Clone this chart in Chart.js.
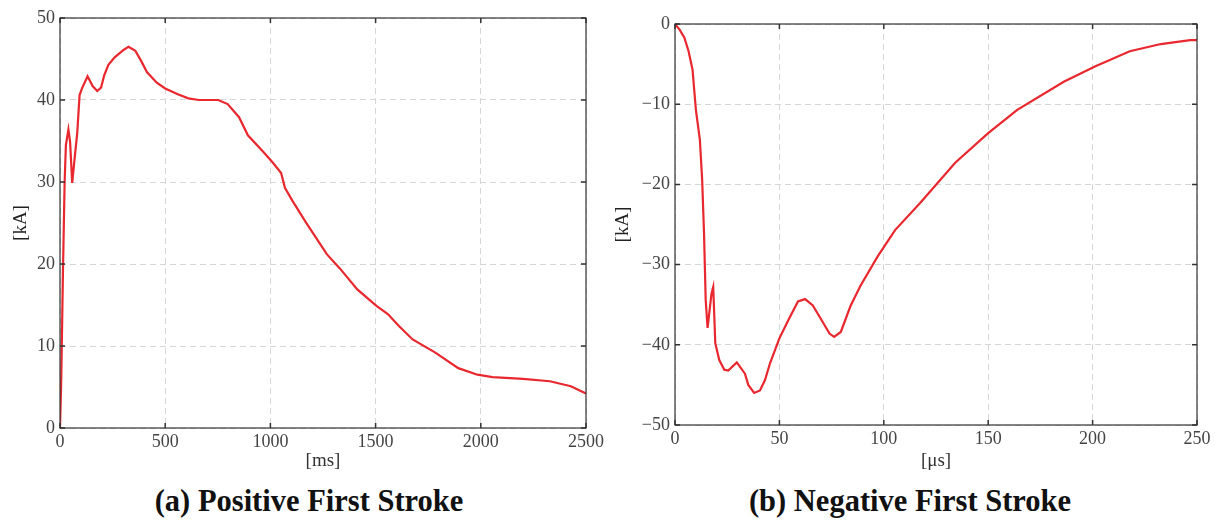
<!DOCTYPE html>
<html>
<head>
<meta charset="utf-8">
<script src="https://cdn.jsdelivr.net/npm/chart.js@4"></script>
<style>
  body { margin: 0; background: #fff; width: 1215px; height: 521px; position: relative; overflow: hidden; font-family: "Liberation Serif", serif; }
  canvas { position: absolute; top: 0; }
  #posChart { left: 0; }
  #negChart { left: 610px; }
  .caption { position: absolute; top: 484px; font: bold 30.5px "Liberation Serif", serif; color: #111; white-space: nowrap; transform: translateX(-50%); }
</style>
</head>
<body>
<canvas id="posChart" width="610" height="480"></canvas>
<canvas id="negChart" width="605" height="480"></canvas>
<div class="caption" style="left:309px">(a) Positive First Stroke</div>
<div class="caption" style="left:910px">(b) Negative First Stroke</div>
<script>
// positive first stroke, time in ms, current in kA
const posTime = [0, 6, 14, 22, 28, 40, 48, 58, 70, 82, 93, 106, 131, 155, 177, 195, 210, 230, 260, 302, 326, 358, 385, 413, 460, 500, 560, 610, 660, 752, 797, 851, 893, 969, 1010, 1051, 1069, 1105, 1168, 1268, 1332, 1413, 1504, 1558, 1612, 1676, 1784, 1893, 1984, 2056, 2201, 2328, 2428, 2500];
const posCurrent = [0, 6, 19, 30, 34.5, 36.4, 34.9, 29.9, 33, 36, 40.6, 41.5, 42.9, 41.7, 41.1, 41.5, 43, 44.3, 45.2, 46.1, 46.5, 46.0, 44.8, 43.4, 42.1, 41.4, 40.7, 40.2, 40.0, 40.0, 39.5, 37.9, 35.7, 33.6, 32.4, 31.1, 29.3, 27.7, 25.1, 21.2, 19.4, 16.9, 14.9, 13.9, 12.4, 10.8, 9.2, 7.3, 6.5, 6.2, 6.0, 5.7, 5.1, 4.2];

// negative first stroke, time in µs, current in kA
const negTime = [0, 2.2, 4.5, 6.5, 8.4, 10.0, 11.9, 13.0, 13.9, 14.7, 15.6, 17.5, 18.3, 19.3, 21.2, 23.6, 25.5, 29.6, 33.5, 35.1, 37.9, 40.7, 43.1, 45.5, 50.0, 54.3, 58.9, 62.3, 66.0, 70.6, 74.0, 76.2, 79.4, 84.0, 88.7, 97.0, 105.4, 117.5, 134.2, 150.0, 163.9, 186.2, 201.1, 217.8, 232.7, 246.7, 250];
const negCurrent = [0, -0.7, -1.7, -3.4, -5.7, -10.7, -14.4, -19.4, -26.1, -34.4, -37.9, -33.6, -32.8, -39.8, -41.9, -43.1, -43.2, -42.2, -43.6, -45.0, -46.0, -45.7, -44.4, -42.3, -39.2, -36.9, -34.6, -34.3, -35.1, -37.1, -38.6, -39.0, -38.4, -35.2, -32.7, -29.0, -25.7, -22.3, -17.3, -13.6, -10.7, -7.2, -5.3, -3.4, -2.5, -2.0, -2.0];

const posXTicks = [0, 500, 1000, 1500, 2000, 2500];
const posYTicks = [0, 10, 20, 30, 40, 50];
const negXTicks = [0, 50, 100, 150, 200, 250];
const negYTicks = [-50, -40, -30, -20, -10, 0];

const serif = "'Liberation Serif', 'DejaVu Serif', serif";
Chart.defaults.font.family = serif;
const tickFont = { family: serif, size: 18 };
const titleFont = { family: serif, size: 19 };
const lineRed = "#e8282e";

// box around the plot and inward ticks on all four sides
const boxPlugin = {
  id: "box",
  afterDraw(chart) {
    const { ctx, chartArea: a, scales } = chart;
    ctx.save();
    ctx.strokeStyle = "#333";
    ctx.lineWidth = 1.2;
    ctx.strokeRect(a.left, a.top, a.right - a.left, a.bottom - a.top);
    ctx.lineWidth = 1.5;
    ctx.beginPath();
    scales.x.ticks.forEach(t => {
      const px = scales.x.getPixelForValue(t.value);
      ctx.moveTo(px, a.bottom); ctx.lineTo(px, a.bottom - 5);
      ctx.moveTo(px, a.top); ctx.lineTo(px, a.top + 5);
    });
    scales.y.ticks.forEach(t => {
      const py = scales.y.getPixelForValue(t.value);
      ctx.moveTo(a.left, py); ctx.lineTo(a.left + 5, py);
      ctx.moveTo(a.right, py); ctx.lineTo(a.right - 5, py);
    });
    ctx.stroke();
    ctx.restore();
  }
};

const fmt = v => (v < 0 ? "\u2212" + Math.abs(v) : String(v));

function makeChart(id, xs, ys, xTicks, yTicks, xTitle, pad, yWidth, xHeight, yTitlePad) {
  return new Chart(document.getElementById(id), {
    type: "line",
    plugins: [boxPlugin],
    data: {
      datasets: [{
        data: xs.map((x, i) => ({ x: x, y: ys[i] })),
        borderColor: lineRed,
        borderWidth: 2.2,
        pointRadius: 0,
        tension: 0
      }]
    },
    options: {
      responsive: false,
      animation: false,
      devicePixelRatio: 1,
      layout: { padding: pad },
      plugins: { legend: { display: false }, tooltip: { enabled: false } },
      scales: {
        x: {
          type: "linear",
          min: xTicks[0],
          max: xTicks[xTicks.length - 1],
          afterBuildTicks: s => { s.ticks = xTicks.map(v => ({ value: v })); },
          afterFit: s => { s.height = xHeight; },
          grid: { color: "#d6d6d6", lineWidth: 1, drawTicks: false },
          border: { display: false, dash: [6, 4] },
          ticks: { font: tickFont, color: "#444", padding: 3, maxRotation: 0, callback: fmt },
          title: { display: true, text: xTitle, font: titleFont, color: "#333", padding: { top: 0, bottom: 8 } }
        },
        y: {
          min: yTicks[0],
          max: yTicks[yTicks.length - 1],
          afterBuildTicks: s => { s.ticks = yTicks.map(v => ({ value: v })); },
          afterFit: s => { s.width = yWidth; },
          grid: { color: "#d6d6d6", lineWidth: 1, drawTicks: false },
          border: { display: false, dash: [6, 4] },
          ticks: { font: tickFont, color: "#444", padding: 5, callback: fmt },
          title: { display: true, text: "[kA]", font: titleFont, color: "#222", padding: { top: yTitlePad, bottom: 0 } }
        }
      }
    }
  });
}

function build() {
  makeChart("posChart", posTime, posCurrent, posXTicks, posYTicks, "[ms]",
    { top: 18, right: 24, left: 0, bottom: 0 }, 60, 52, 10);
  makeChart("negChart", negTime, negCurrent, negXTicks, negYTicks, "[\u03bcs]",
    { top: 24, right: 18, left: 0, bottom: 0 }, 65, 55, 2);
}
document.fonts.load("18px 'Liberation Serif'").then(build, build);
</script>
</body>
</html>
